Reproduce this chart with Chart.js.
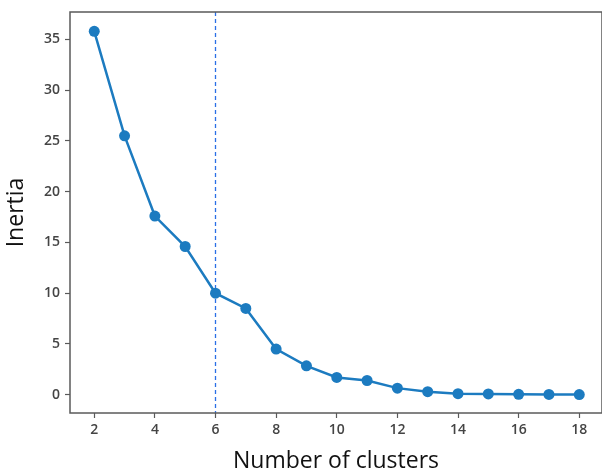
<!DOCTYPE html>
<html>
<head>
<meta charset="utf-8">
<script src="https://cdn.jsdelivr.net/npm/chart.js@4/dist/chart.umd.min.js"></script>
<style>
	html, body { margin: 0; padding: 0; background: #fff; }
	#wrap { width: 602px; height: 476px; }
</style>
</head>
<body>
<div id="wrap"><canvas id="grafica"></canvas></div>
<script>
// data
var clusters = [2, 3, 4, 5, 6, 7, 8, 9, 10, 11, 12, 13, 14, 15, 16, 17, 18];
var inertia = [35.8, 25.5, 17.6, 14.6, 10.0, 8.5, 4.5, 2.85, 1.7, 1.4, 0.65, 0.3, 0.1, 0.08, 0.04, 0.03, 0.02];
var xTicks = [2, 4, 6, 8, 10, 12, 14, 16, 18];
var yTicks = [0, 5, 10, 15, 20, 25, 30, 35];
var elbowK = 6;

var puntos = clusters.map(function (k, i) { return {x: k, y: inertia[i]}; });

var color_linea = '#1c7bc0';
var color_eje = '#5a5a5a';
var fuente_ticks = {family: 'Open Sans', size: 14, weight: '600'};
var fuente_titulo = {family: 'Open Sans', size: 23};

// frame all round the plot + dashed line at the elbow
var marcoPlugin = {
	id: 'marco',
	beforeDatasetsDraw: function (chart) {
		var ctx = chart.ctx;
		var area = chart.chartArea;
		var px = Math.floor(chart.scales.x.getPixelForValue(elbowK)) + 0.5;
		ctx.save();
		ctx.strokeStyle = '#2a6fe6';
		ctx.lineWidth = 1.3;
		ctx.setLineDash([4, 3]);
		ctx.beginPath();
		ctx.moveTo(px, area.top);
		ctx.lineTo(px, area.bottom);
		ctx.stroke();
		ctx.restore();
	},
	afterDraw: function (chart) {
		var ctx = chart.ctx;
		var area = chart.chartArea;
		ctx.save();
		ctx.strokeStyle = color_eje;
		ctx.lineWidth = 1.5;
		ctx.strokeRect(area.left, area.top, area.right - area.left, area.bottom - area.top);
		ctx.restore();
	}
};

var contexto = document.getElementById('grafica').getContext('2d');
new Chart(contexto, {
	type: 'line',
	data: {
		datasets: [{
			data: puntos,
			borderColor: color_linea,
			backgroundColor: color_linea,
			borderWidth: 2.5,
			pointRadius: 5.5,
			pointHoverRadius: 5.5,
			pointBorderWidth: 0,
			tension: 0,
			fill: false
		}]
	},
	options: {
		responsive: true,
		maintainAspectRatio: false,
		animation: false,
		devicePixelRatio: 1,
		layout: {
			autoPadding: false,
			padding: { top: 12, right: 0, left: 0, bottom: 0 }
		},
		plugins: {
			legend: { display: false },
			tooltip: { enabled: false }
		},
		scales: {
			x: {
				type: 'linear',
				min: 1.2,
				max: 18.75,
				afterBuildTicks: function (scale) {
					scale.ticks = xTicks.map(function (v) { return {value: v}; });
				},
				afterFit: function (scale) {
					scale.height = 63;
					scale.paddingLeft = 0;
					scale.paddingRight = 0;
				},
				grid: {
					drawOnChartArea: false,
					drawTicks: true,
					tickLength: 5,
					tickColor: color_eje,
					tickWidth: 1.2
				},
				border: { display: false },
				ticks: {
					color: '#444',
					font: fuente_ticks,
					padding: 4,
					maxRotation: 0,
					autoSkip: false
				},
				title: {
					display: true,
					text: 'Number of clusters',
					color: '#111',
					font: fuente_titulo,
					padding: { top: 0, bottom: 1 }
				}
			},
			y: {
				type: 'linear',
				min: -1.8,
				max: 37.7,
				afterBuildTicks: function (scale) {
					scale.ticks = yTicks.map(function (v) { return {value: v}; });
				},
				afterFit: function (scale) {
					scale.width = 70;
					scale.paddingTop = 0;
					scale.paddingBottom = 0;
				},
				grid: {
					drawOnChartArea: false,
					drawTicks: true,
					tickLength: 5,
					tickColor: color_eje,
					tickWidth: 1.2
				},
				border: { display: false },
				ticks: {
					color: '#444',
					font: fuente_ticks,
					padding: 5
				},
				title: {
					display: true,
					text: 'Inertia',
					color: '#111',
					font: fuente_titulo,
					padding: { top: 3, bottom: 0 }
				}
			}
		}
	},
	plugins: [marcoPlugin]
});
</script>
</body>
</html>
